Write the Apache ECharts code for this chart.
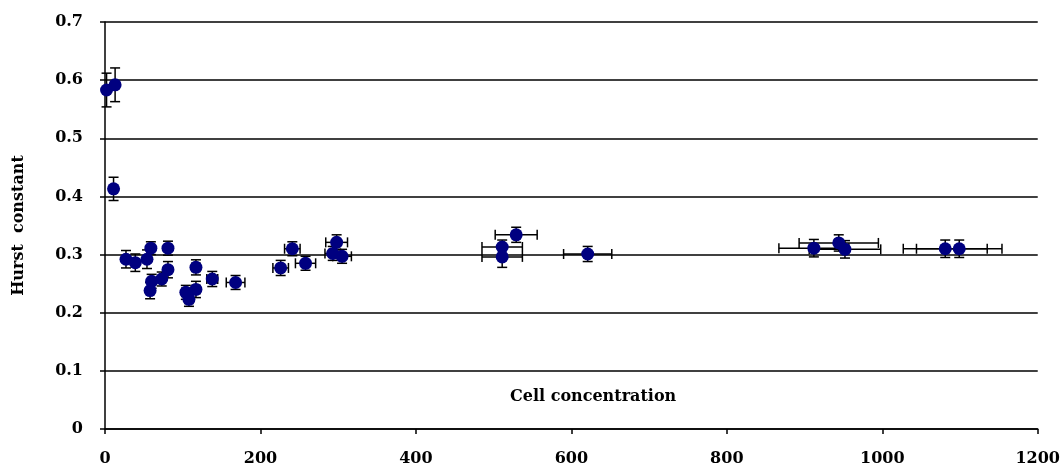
<!DOCTYPE html>
<html>
<head>
<meta charset="utf-8">
<script src="https://cdn.jsdelivr.net/npm/echarts@6/dist/echarts.min.js"></script>
<style>
  html, body { margin: 0; padding: 0; background: #fff; }
  #chart { width: 1063px; height: 471px; }
</style>
</head>
<body>
<div id="chart"></div>
<script>
// Hurst constant measured against cell concentration, with error bars on both axes
var concentration = [2, 13, 11, 27, 39, 54, 59, 81, 81, 73, 60, 58, 117, 104, 108, 117, 138, 168,
  226, 241, 258, 298, 293, 305, 529, 511, 511, 621, 912, 944, 952, 1081, 1099];
var hurst = [0.583, 0.592, 0.413, 0.292, 0.286, 0.292, 0.311, 0.311, 0.274, 0.258, 0.254, 0.238,
  0.278, 0.235, 0.223, 0.240, 0.258, 0.252, 0.277, 0.310, 0.285, 0.321, 0.302, 0.297,
  0.334, 0.313, 0.296, 0.301, 0.311, 0.320, 0.309, 0.310, 0.310];
var concentrationErr = [0, 0, 0, 0, 0, 0, 0, 0, 0, 0, 0, 0, 5, 5, 5, 5, 7, 12,
  10, 10, 13, 14, 10, 12, 27, 26, 26, 31, 45, 51, 46, 54, 55];
var hurstErr = [0.029, 0.029, 0.020, 0.015, 0.015, 0.016, 0.011, 0.012, 0.014, 0.012, 0.012, 0.014,
  0.013, 0.012, 0.012, 0.014, 0.013, 0.012, 0.013, 0.012, 0.012, 0.013, 0.012, 0.012,
  0.013, 0.012, 0.018, 0.013, 0.015, 0.014, 0.015, 0.015, 0.015];
var xTicks = { min: 0, max: 1200, step: 200 };
var yTicks = { min: 0, max: 0.7, step: 0.1 };

var points = concentration.map(function (c, i) { return [c, hurst[i]]; });
var errRows = concentration.map(function (c, i) {
  return [c, hurst[i], concentrationErr[i], hurstErr[i]];
});

var FONT = '"DejaVu Serif", "Liberation Serif", serif';
var CAP = 5;
var barStyle = { stroke: '#000', lineWidth: 1.5 };

function renderErrorBar(params, api) {
  var x = api.value(0), y = api.value(1), ex = api.value(2), ey = api.value(3);
  var children = [];
  if (ey > 0) {
    var top = api.coord([x, y + ey]);
    var bot = api.coord([x, y - ey]);
    children.push(
      { type: 'line', shape: { x1: top[0], y1: top[1], x2: bot[0], y2: bot[1] }, style: barStyle },
      { type: 'line', shape: { x1: top[0] - CAP, y1: top[1], x2: top[0] + CAP, y2: top[1] }, style: barStyle },
      { type: 'line', shape: { x1: bot[0] - CAP, y1: bot[1], x2: bot[0] + CAP, y2: bot[1] }, style: barStyle }
    );
  }
  if (ex > 0) {
    var lft = api.coord([x - ex, y]);
    var rgt = api.coord([x + ex, y]);
    children.push(
      { type: 'line', shape: { x1: lft[0], y1: lft[1], x2: rgt[0], y2: rgt[1] }, style: barStyle },
      { type: 'line', shape: { x1: lft[0], y1: lft[1] - CAP, x2: lft[0], y2: lft[1] + CAP }, style: barStyle },
      { type: 'line', shape: { x1: rgt[0], y1: rgt[1] - CAP, x2: rgt[0], y2: rgt[1] + CAP }, style: barStyle }
    );
  }
  return { type: 'group', children: children };
}

var chart = echarts.init(document.getElementById('chart'), null, { renderer: 'canvas' });
chart.setOption({
  animation: false,
  backgroundColor: '#fff',
  grid: { left: 105, right: 24, top: 22, bottom: 42 },
  xAxis: {
    type: 'value',
    min: xTicks.min, max: xTicks.max, interval: xTicks.step,
    axisLine: { show: true, lineStyle: { color: '#000', width: 1.5 } },
    axisTick: { show: true, inside: false, length: 5, lineStyle: { color: '#000', width: 1.5 } },
    axisLabel: {
      color: '#000', fontFamily: FONT, fontWeight: 'bold', fontSize: 16, margin: 22,
      formatter: function (v) { return String(v); }
    },
    splitLine: { show: false }
  },
  yAxis: {
    type: 'value',
    min: yTicks.min, max: yTicks.max, interval: yTicks.step,
    name: 'Hurst  constant',
    nameLocation: 'middle',
    nameRotate: 90,
    nameGap: 78,
    nameTextStyle: { color: '#000', fontFamily: FONT, fontWeight: 'bold', fontSize: 16 },
    axisLine: { show: true, lineStyle: { color: '#000', width: 1.5 } },
    axisTick: { show: true, inside: false, length: 5, lineStyle: { color: '#000', width: 1.5 } },
    axisLabel: {
      color: '#000', fontFamily: FONT, fontWeight: 'bold', fontSize: 16, margin: 22,
      formatter: function (v) { return String(Math.round(v * 10) / 10); }
    },
    splitLine: { show: true, lineStyle: { color: '#000', width: 1.5 } }
  },
  graphic: [{
    type: 'text',
    left: 510,
    top: 389,
    style: {
      text: 'Cell concentration',
      fill: '#000',
      font: 'bold 16px ' + FONT
    }
  }],
  series: [
    {
      type: 'custom',
      renderItem: renderErrorBar,
      data: errRows,
      encode: { x: 0, y: 1 },
      z: 2,
      silent: true
    },
    {
      type: 'scatter',
      data: points,
      symbol: 'circle',
      symbolSize: 13,
      itemStyle: { color: '#000080', opacity: 1 },
      z: 3
    }
  ]
});
</script>
</body>
</html>
